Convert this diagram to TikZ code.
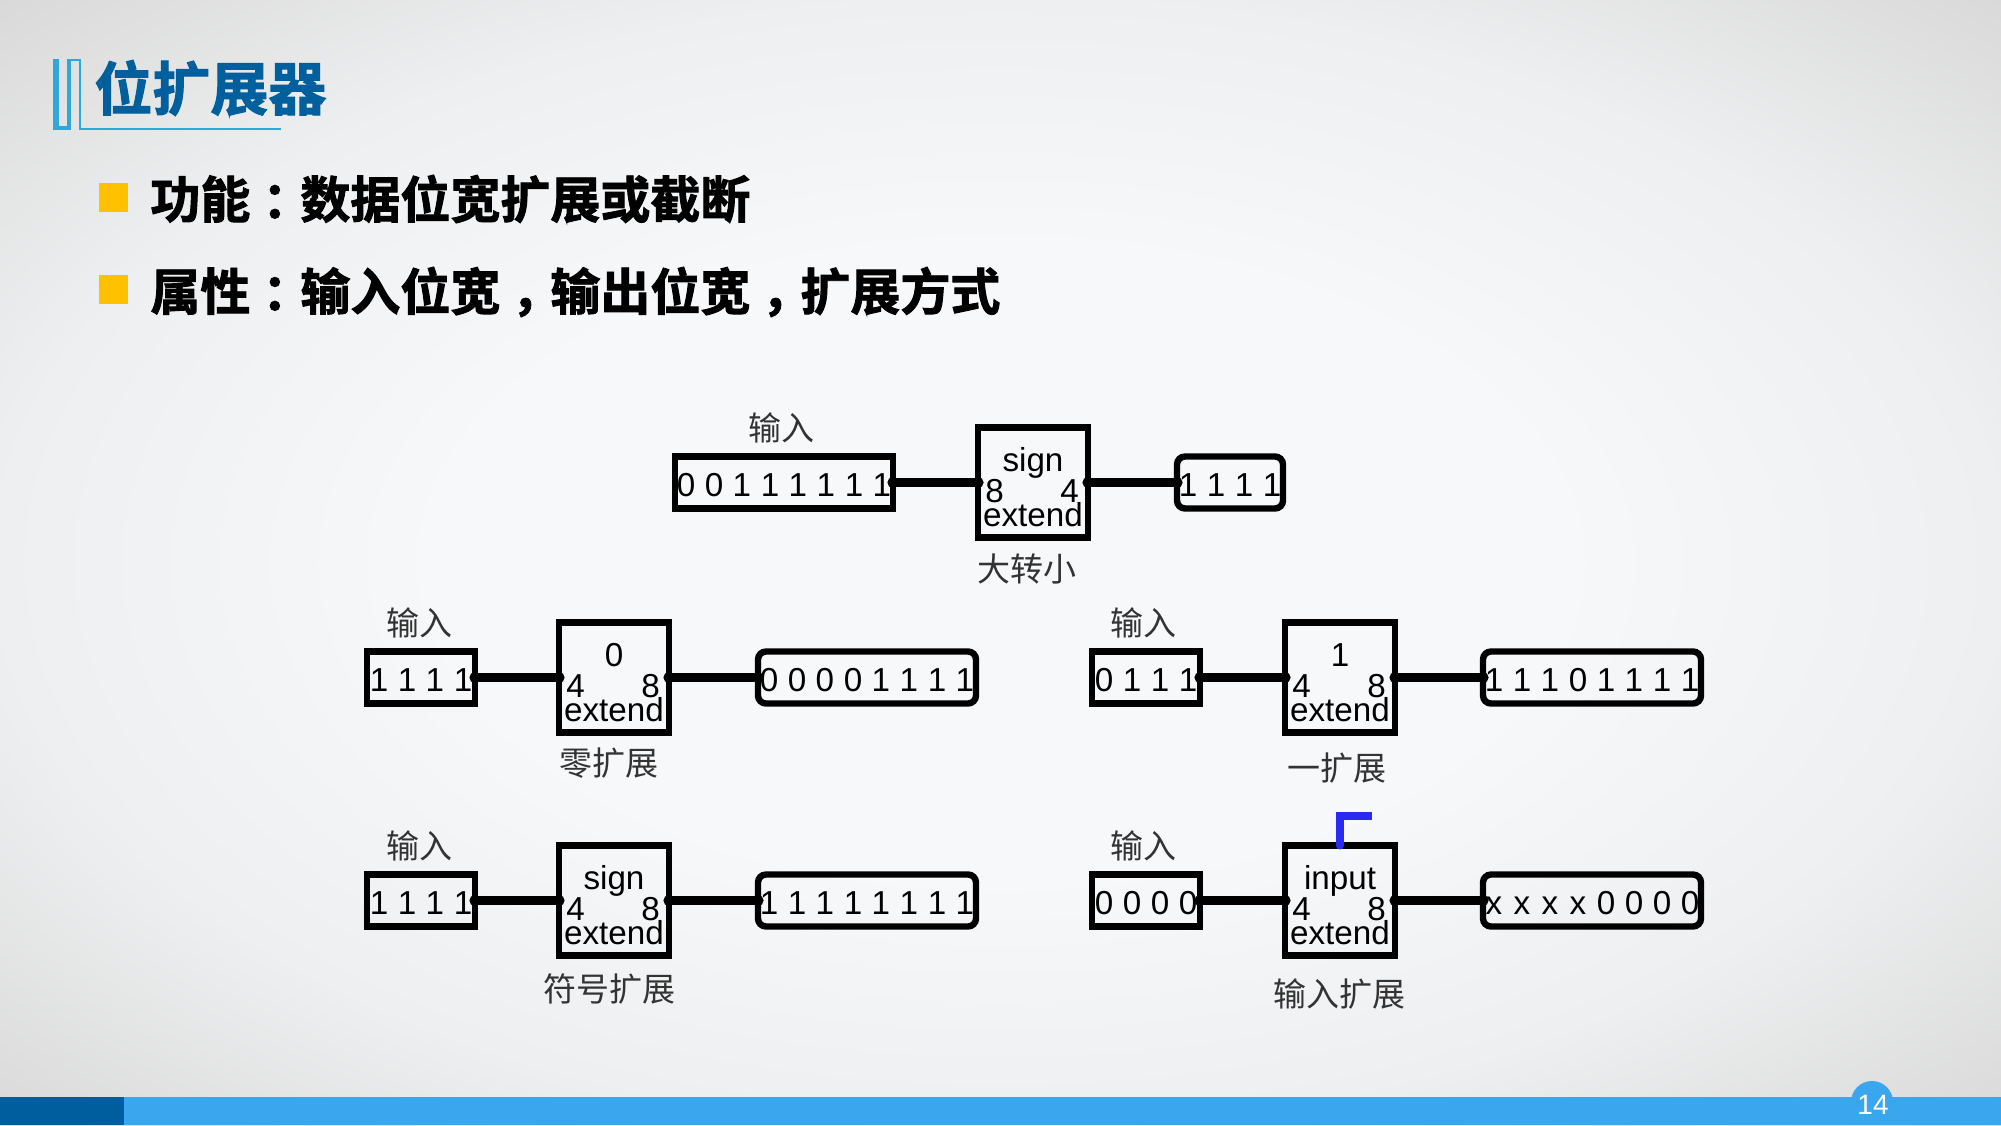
\documentclass[tikz,border=0pt]{standalone}
\usepackage{fontspec}
\setmainfont{Liberation Sans}
\newfontfamily\cjk{Noto Sans CJK SC}
\newfontfamily\cjkb[FakeBold=1.8]{Noto Sans CJK SC Bold}
\definecolor{bgc}{HTML}{F6F8FA}
\definecolor{bgm}{HTML}{EEEFF0}
\definecolor{bge}{HTML}{D9D9D9}
\pgfdeclareradialshading{slidebg}{\pgfpoint{0bp}{0bp}}{
  color(0bp)=(bgc);color(14bp)=(bgc);color(25bp)=(bgm);color(35.4bp)=(bge);color(50bp)=(bge)}
\definecolor{barblue}{HTML}{39A6EE}
\definecolor{bardark}{HTML}{005E9E}
\definecolor{titleblue}{HTML}{00609E}
\definecolor{decoblue}{HTML}{2BA9DC}
\definecolor{bullet}{HTML}{FFC000}
\definecolor{tunnel}{HTML}{2A2AF0}
\tikzset{
  x=0.5pt,y=-0.5pt,
  reg/.style={draw=black,line width=3.2pt,inner sep=0pt,outer sep=0pt,minimum height=26pt,text height=13.9pt,text depth=0pt,font=\fontsize{16.6}{16.6}\selectfont},
  outreg/.style={reg,rounded corners=4pt},
  extbox/.style={draw=black,line width=3.2pt,inner sep=0pt,outer sep=0pt,minimum width=55pt,minimum height=55pt},
  boxtext/.style={anchor=base,inner sep=0pt,font=\fontsize{16.6}{16.6}\selectfont},
  cnlabel/.style={inner sep=0pt,font=\cjk\fontsize{16.5}{16.5}\selectfont,text=black!80},
  wire/.style={line width=4.6pt,line cap=round,black},
  headline/.style={anchor=west,inner sep=0pt,font=\cjkb\fontsize{25}{25}\selectfont},
}
\newcommand{\digits}[1]{{\spaceskip=4.77pt\relax #1}}
\newcommand{\xc}{\makebox[9.23pt]{x}}
\newcommand{\pu}[2][6pt]{\makebox[25pt][l]{\hspace{#1}#2}}
% \extunit{name}{cx}{cy}{mode}{left}{right}
\newcommand{\extunit}[6]{%
  \node[extbox] (#1) at (#2,#3) {};
  \node[boxtext] (#1mode) at (#2,#3-11) {#4};
  \node[boxtext] (#1l) at (#2-38.5,#3+19.5) {#5};
  \node[boxtext] (#1r) at (#2+36.5,#3+19.5) {#6};
  \node[boxtext] (#1ext) at (#2,#3+44) {extend};
}
\newcommand{\connect}[2]{%
  \draw[wire] (#1.east) -- (#2.west);
  \fill (#1.east) circle (2.8pt);
  \fill (#2.west) circle (2.8pt);
}
\begin{document}
\begin{tikzpicture}
\useasboundingbox (0,0) rectangle (2001,1125);
\shade[shading=slidebg] (0,0) rectangle (2001,1125);
% footer
\fill[barblue] (1872,1102) circle (10.5pt);
\fill[barblue] (0,1097) rectangle (2001,1125);
\fill[bardark] (0,1097) rectangle (124,1125);
\node[inner sep=0pt,text=white,font=\fontsize{14}{14}\selectfont] (page) at (1873,1105) {14};
% title decoration
\fill[decoblue] (53,59) rectangle (59,130);
\fill[decoblue] (53,126) rectangle (71,130);
\fill[decoblue] (67,59) rectangle (71,130);
\fill[decoblue] (67,59) rectangle (81,61);
\fill[decoblue] (79,59) rectangle (81,130);
\fill[decoblue] (79,128) rectangle (281,130);
\node[anchor=west,inner sep=0pt,text=titleblue,font=\cjkb\fontsize{29}{29}\selectfont] (title) at (94,88) {位扩展器};
% bullets
\fill[bullet] (99,183) rectangle (128,212);
\fill[bullet] (99,275) rectangle (128,304);
\node[headline] (l1) at (150,199) {功能\pu{：}数据位宽扩展或截断};
\node[headline] (l2) at (150,292) {属性\pu{：}输入位宽\pu[5.5pt]{，}输出位宽\pu[5.5pt]{，}扩展方式};
% top
\node[reg,minimum width=109pt] (in0) at (784,482.5) {\digits{0 0 1 1 1 1 1 1}};
\extunit{e0}{1033}{482.5}{sign}{8}{4}
\node[outreg,minimum width=53pt] (out0) at (1230,482.5) {\digits{1 1 1 1}};
\connect{in0}{e0}\connect{e0}{out0}
\node[cnlabel] (t0) at (781,428) {输入};
\node[cnlabel] (c0) at (1027,569) {大转小};
% zero
\node[reg,minimum width=54pt] (in1) at (421,677.5) {\digits{1 1 1 1}};
\extunit{e1}{614}{677.5}{0}{4}{8}
\node[outreg,minimum width=109pt] (out1) at (867,677.5) {\digits{0 0 0 0 1 1 1 1}};
\connect{in1}{e1}\connect{e1}{out1}
\node[cnlabel] (t1) at (419,623) {输入};
\node[cnlabel] (c1) at (609,763) {零扩展};
% one
\node[reg,minimum width=54pt] (in2) at (1146,677.5) {\digits{0 1 1 1}};
\extunit{e2}{1340}{677.5}{1}{4}{8}
\node[outreg,minimum width=109pt] (out2) at (1592,677.5) {\digits{1 1 1 0 1 1 1 1}};
\connect{in2}{e2}\connect{e2}{out2}
\node[cnlabel] (t2) at (1143,623) {输入};
\node[cnlabel] (c2) at (1337,768) {一扩展};
% sign
\node[reg,minimum width=54pt] (in3) at (421,900.5) {\digits{1 1 1 1}};
\extunit{e3}{614}{900.5}{sign}{4}{8}
\node[outreg,minimum width=109pt] (out3) at (867,900.5) {\digits{1 1 1 1 1 1 1 1}};
\connect{in3}{e3}\connect{e3}{out3}
\node[cnlabel] (t3) at (419,846) {输入};
\node[cnlabel] (c3) at (609,989) {符号扩展};
% input
\node[reg,minimum width=54pt] (in4) at (1146,900.5) {\digits{0 0 0 0}};
\extunit{e4}{1340}{900.5}{input}{4}{8}
\node[outreg,minimum width=109pt] (out4) at (1592,900.5) {\digits{\xc{} \xc{} \xc{} \xc{} 0 0 0 0}};
\connect{in4}{e4}\connect{e4}{out4}
\node[cnlabel] (t4) at (1143,846) {输入};
\node[cnlabel] (c4) at (1339,994) {输入扩展};
\coordinate (tun) at (1372,816);
\draw[tunnel,line width=4pt,line cap=round] (e4.north) -- (e4.north |- tun);
\draw[tunnel,line width=4pt] (e4.north |- tun) ++(-4,0) -- (tun);
\end{tikzpicture}
\end{document}
